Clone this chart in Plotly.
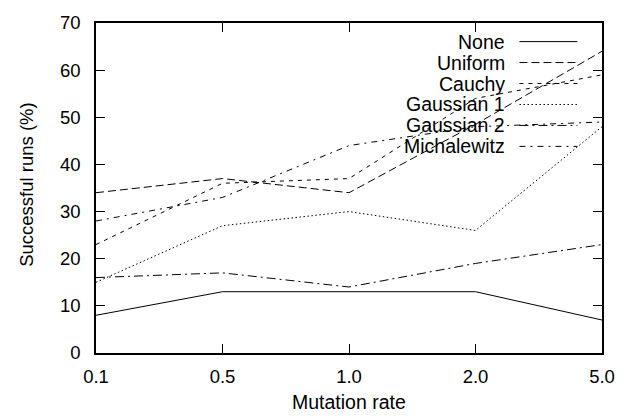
import plotly.graph_objects as go

mutation_rates = ["0.1", "0.5", "1.0", "2.0", "5.0"]
none_vals = [8, 13, 13, 13, 7]
uniform_vals = [34, 37, 34, 48.5, 64]
cauchy_vals = [23, 36, 37, 54, 59]
gaussian1_vals = [15, 27, 30, 26, 48]
gaussian2_vals = [16, 17, 14, 19, 23]
michalewitz_vals = [28, 33, 44, 48, 49]
y_ticks = [0, 10, 20, 30, 40, 50, 60, 70]

series = [
    ("None", none_vals, "solid"),
    ("Uniform", uniform_vals, "8px,4px"),
    ("Cauchy", cauchy_vals, "4px,5px"),
    ("Gaussian 1", gaussian1_vals, "1.5px,2.5px"),
    ("Gaussian 2", gaussian2_vals, "9px,4px,2px,4px"),
    ("Michalewitz", michalewitz_vals, "6px,5px,2px,5px"),
]

FONT = "Liberation Sans, Arial, Helvetica, sans-serif"
FS_TICK = 18.5
FS = 19.5

fig = go.Figure()
for name, vals, dash in series:
    fig.add_trace(go.Scatter(x=mutation_rates, y=vals, mode="lines", name=name,
                             line=dict(color="black", width=1, dash=dash),
                             showlegend=False))

W, H = 627, 416
L, R, T, B = 96, 16, 16, 63
pw, ph = W - L - R, H - T - B

def px2paper_x(px):
    return (px - L) / pw

def px2paper_y(py):
    return (H - B - py) / ph

# custom gnuplot-style legend: right-aligned text, sample line to the right
row_y = [35, 56.4, 77.8, 99.2, 120.6, 142]
shapes = []
annotations = []
for (name, vals, dash), ry in zip(series, row_y):
    annotations.append(dict(x=px2paper_x(514), y=px2paper_y(ry), xref="paper", yref="paper",
                            text=name, showarrow=False, xanchor="right", yanchor="middle",
                            font=dict(family=FONT, size=FS, color="black")))
    shapes.append(dict(type="line", xref="paper", yref="paper",
                       x0=px2paper_x(527), x1=px2paper_x(586),
                       y0=px2paper_y(ry), y1=px2paper_y(ry),
                       line=dict(color="black", width=1, dash=dash)))

annotations.append(dict(x=0.5, y=px2paper_y(403), xref="paper", yref="paper",
                        text="Mutation rate", showarrow=False, xanchor="center", yanchor="middle",
                        font=dict(family=FONT, size=FS, color="black")))
annotations.append(dict(x=px2paper_x(25), y=px2paper_y(181), xref="paper", yref="paper",
                        text="Successful runs (%)", showarrow=False, textangle=-90,
                        xanchor="center", yanchor="middle",
                        font=dict(family=FONT, size=FS_TICK, color="black")))

axis_common = dict(showline=True, linecolor="black", linewidth=1.6, mirror="ticks",
                   ticks="inside", ticklen=9, tickwidth=1, tickcolor="black",
                   showgrid=False, zeroline=False,
                   tickfont=dict(family=FONT, size=FS_TICK, color="black"))

fig.update_layout(
    width=W, height=H,
    margin=dict(l=L, r=R, t=T, b=B),
    paper_bgcolor="white", plot_bgcolor="white",
    xaxis=dict(type="category", range=[0, 4], ticklabelstandoff=6, **axis_common),
    yaxis=dict(range=[0, 70], tickvals=y_ticks, ticklabelstandoff=10, **axis_common),
    shapes=shapes, annotations=annotations,
)

fig.write_html("out.html")
